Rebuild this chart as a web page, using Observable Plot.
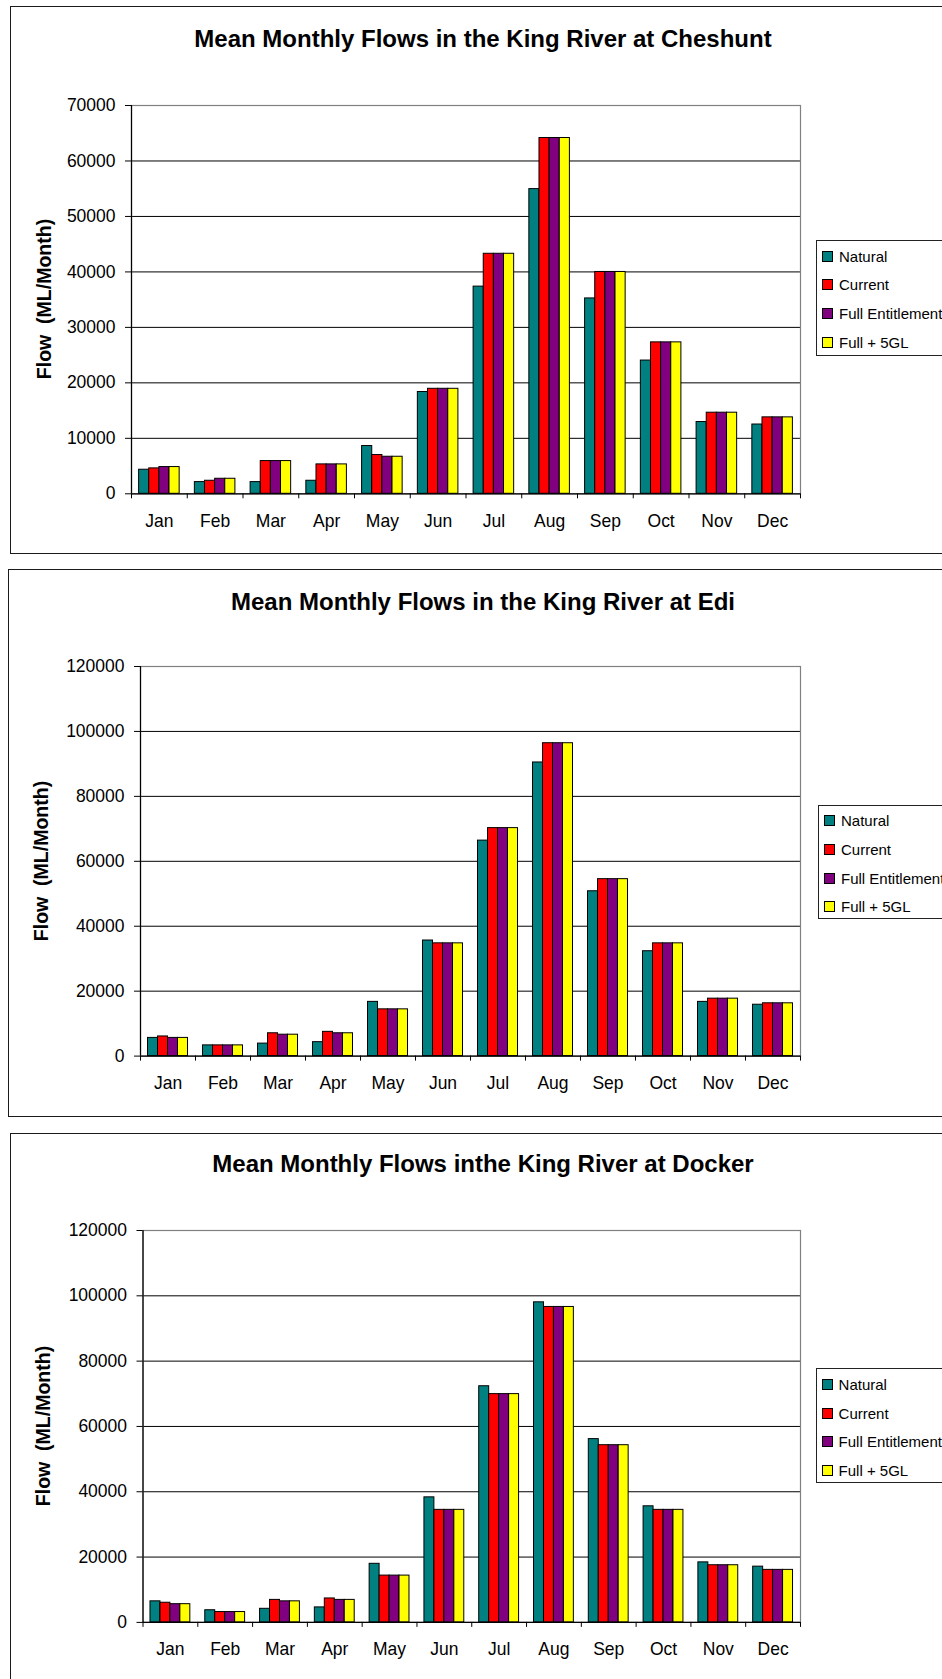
<!DOCTYPE html>
<html>
<head>
<meta charset="utf-8">
<script src="https://cdn.jsdelivr.net/npm/d3@7"></script>
<script src="https://cdn.jsdelivr.net/npm/@observablehq/plot@0.6"></script>
<style>
  html, body { margin: 0; padding: 0; background: #fff; }
  body { width: 942px; height: 1679px; overflow: hidden; position: relative;
         font-family: Arial, "Liberation Sans", sans-serif; color: #000; }
  .panel { position: absolute; box-sizing: border-box; border: 1.5px solid #1a1a1a; background: #fff; }
  .title { position: absolute; left: 0; width: 966px; text-align: center; font-weight: bold;
           font-size: 24px; line-height: 24px; white-space: nowrap; }
  .ylabel { position: absolute; font-weight: bold; font-size: 19.5px; line-height: 20px; white-space: pre;
            transform: translate(-50%, -50%) rotate(-90deg); }
  .chart { position: absolute; left: 0; }
  .legend { position: absolute; box-sizing: border-box; width: 200px; border: 1px solid #222;
            background: #fff; padding-top: 1px; }
  .legend .row { display: flex; align-items: center; height: 28.6px; font-size: 15px; white-space: nowrap; }
  .legend .sw { width: 9px; height: 9px; border: 1px solid #000; margin-left: 5px; margin-right: 6px; flex: none; }
</style>
</head>
<body>
<script>
// ---- data ----
const months = ["Jan", "Feb", "Mar", "Apr", "May", "Jun", "Jul", "Aug", "Sep", "Oct", "Nov", "Dec"];
const seriesNames = ["Natural", "Current", "Full Entitlement", "Full + 5GL"];
const seriesColors = ["#008080", "#FF0000", "#800080", "#FFFF00"];

const cheshuntNatural = [4340, 2110, 2110, 2350, 8610, 18350, 37350, 54930, 35220, 24020, 12940, 12490];
const cheshuntCurrent = [4580, 2350, 5900, 5300, 6990, 18930, 43270, 64140, 39990, 27300, 14620, 13780];
const cheshuntFull    = [4820, 2710, 5900, 5300, 6680, 18930, 43270, 64140, 39990, 27300, 14620, 13780];
const cheshuntFull5GL = [4820, 2710, 5900, 5300, 6680, 18930, 43270, 64140, 39990, 27300, 14620, 13780];

const ediNatural = [5600, 3300, 3850, 4290, 16700, 35600, 66370, 90440, 50770, 32300, 16700, 15820];
const ediCurrent = [6050, 3300, 7030, 7470, 14400, 34730, 70220, 96370, 54500, 34730, 17690, 16260];
const ediFull    = [5600, 3300, 6590, 7030, 14400, 34730, 70220, 96370, 54500, 34730, 17690, 16260];
const ediFull5GL = [5600, 3300, 6590, 7030, 14400, 34730, 70220, 96370, 54500, 34730, 17690, 16260];

const dockerNatural = [6450, 3720, 4160, 4590, 17940, 38290, 72310, 98010, 56120, 35550, 18380, 17070];
const dockerCurrent = [6020, 3170, 6890, 7330, 14330, 34460, 69900, 96590, 54260, 34460, 17500, 16080];
const dockerFull    = [5580, 3170, 6450, 6890, 14330, 34460, 69900, 96590, 54260, 34460, 17500, 16080];
const dockerFull5GL = [5580, 3170, 6450, 6890, 14330, 34460, 69900, 96590, 54260, 34460, 17500, 16080];

const titles = [
  "Mean Monthly Flows in the King River at Cheshunt",
  "Mean Monthly Flows in the King River at Edi",
  "Mean Monthly Flows inthe King River at Docker"
];
const yLabel = "Flow  (ML/Month)";
const yTicksCheshunt = d3.range(0, 70001, 10000);
const yTicksEdi = d3.range(0, 120001, 20000);
const yTicksDocker = d3.range(0, 120001, 20000);

// ---- layout ----
const FONT = 'Arial, "Liberation Sans", sans-serif';
const gapWidth = 1.5; // Excel gap width 150%

function rowsFor(arrays) {
  const rows = [];
  const slot = 1 / (seriesNames.length + gapWidth);
  months.forEach((m, i) => {
    arrays.forEach((arr, j) => {
      const x1 = i + slot * (gapWidth / 2 + j);
      rows.push({month: m, series: seriesNames[j], value: arr[i], x1, x2: x1 + slot});
    });
  });
  return rows;
}

function addPanel(cfg) {
  const box = document.createElement("div");
  box.className = "panel";
  Object.assign(box.style, {left: cfg.boxLeft + "px", top: cfg.boxTop + "px",
    width: "960px", height: cfg.boxHeight + "px"});
  document.body.appendChild(box);

  const t = document.createElement("div");
  t.className = "title";
  t.textContent = cfg.title;
  t.style.top = (cfg.titleBaseline - 20.3) + "px";
  document.body.appendChild(t);

  const mt = 45, mb = 50;
  const plotH = cfg.plotBottom - cfg.plotTop;
  const yTicks = cfg.yTicks;
  const yMax = yTicks[yTicks.length - 1];
  const chart = Plot.plot({
    width: 942,
    height: plotH + mt + mb,
    marginLeft: cfg.axisLeft,
    marginRight: 942 - 800,
    marginTop: mt,
    marginBottom: mb,
    style: {fontFamily: FONT, fontSize: "17.5px", color: "#000", background: "transparent", overflow: "visible"},
    x: {domain: [0, months.length], axis: null},
    y: {domain: [0, yMax], axis: null},
    color: {domain: seriesNames, range: seriesColors},
    marks: [
      Plot.ruleY(yTicks.slice(1, -1), {stroke: "#000", strokeWidth: 1}),
      Plot.frame({stroke: "#808080", strokeWidth: 1.2}),
      Plot.rectY(rowsFor(cfg.data), {x1: "x1", x2: "x2", y: "value", fill: "series", stroke: "#000", strokeWidth: 1}),
      Plot.ruleX([0], {stroke: "#000", strokeWidth: 1.2}),
      Plot.ruleY([0], {stroke: "#000", strokeWidth: 1.2}),
      Plot.axisY({ticks: yTicks, tickSize: 6, tickPadding: 10, tickFormat: d3.format("d"), label: null,
                  stroke: "#000", fontSize: 17.5}),
      Plot.axisX({ticks: d3.range(0, months.length + 1), tickSize: 5, tickFormat: () => "", label: null, stroke: "#000"}),
      Plot.axisX({ticks: months.map((m, i) => i + 0.5), tickSize: 0, tickPadding: 20.5,
                  tickFormat: d => months[Math.floor(d)], label: null, fontSize: 17.5})
    ]
  });
  chart.classList.add("chart");
  chart.style.top = (cfg.plotTop - mt) + "px";
  document.body.appendChild(chart);

  const yl = document.createElement("div");
  yl.className = "ylabel";
  yl.textContent = yLabel;
  yl.style.left = cfg.labelX + "px";
  yl.style.top = ((cfg.plotTop + cfg.plotBottom) / 2) + "px";
  document.body.appendChild(yl);

  const lg = document.createElement("div");
  lg.className = "legend";
  Object.assign(lg.style, {left: cfg.legendLeft + "px", top: cfg.legendTop + "px", height: cfg.legendHeight + "px"});
  seriesNames.forEach((s, j) => {
    const r = document.createElement("div");
    r.className = "row";
    const sw = document.createElement("span");
    sw.className = "sw";
    sw.style.background = seriesColors[j];
    const tx = document.createElement("span");
    tx.textContent = s;
    r.appendChild(sw); r.appendChild(tx);
    lg.appendChild(r);
  });
  document.body.appendChild(lg);
}

addPanel({title: titles[0], boxLeft: 10, boxTop: 6, boxHeight: 548, titleBaseline: 47.3,
  plotTop: 104.6, plotBottom: 492.9, axisLeft: 131, labelX: 44, yTicks: yTicksCheshunt,
  data: [cheshuntNatural, cheshuntCurrent, cheshuntFull, cheshuntFull5GL],
  legendLeft: 816, legendTop: 240, legendHeight: 116});

addPanel({title: titles[1], boxLeft: 8.3, boxTop: 569, boxHeight: 547.5, titleBaseline: 610,
  plotTop: 666.4, plotBottom: 1056, axisLeft: 140, labelX: 41, yTicks: yTicksEdi,
  data: [ediNatural, ediCurrent, ediFull, ediFull5GL],
  legendLeft: 818, legendTop: 804.6, legendHeight: 114.5});

addPanel({title: titles[2], boxLeft: 10.3, boxTop: 1132.5, boxHeight: 600, titleBaseline: 1172.6,
  plotTop: 1230.4, plotBottom: 1622.3, axisLeft: 142.5, labelX: 43, yTicks: yTicksDocker,
  data: [dockerNatural, dockerCurrent, dockerFull, dockerFull5GL],
  legendLeft: 815.6, legendTop: 1368.3, legendHeight: 115});
</script>
</body>
</html>
